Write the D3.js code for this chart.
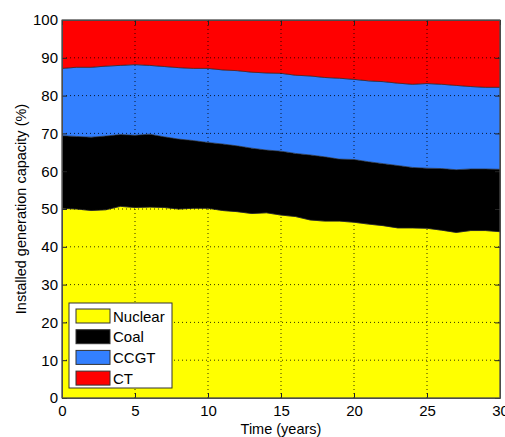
<!DOCTYPE html>
<html>
<head>
  <script src="https://cdnjs.cloudflare.com/ajax/libs/d3/7.8.5/d3.min.js"></script>
  <style>
    body { margin: 0; background: white; }
    svg text { font-family: "Liberation Sans", Arial, sans-serif; fill: black; }
    .tick text { font-size: 15px; }
    .grid line { stroke: black; stroke-width: 1; stroke-dasharray: 1 3; opacity: 0.8; }
  </style>
</head>
<body>
  <div id="chart"></div>
  <script>
    // Time axis (years)
    const years = d3.range(0, 31);

    // Share of installed capacity per technology (%)
    const nuclear = [50.2, 50.0, 49.6, 49.8, 50.7, 50.4, 50.5, 50.4, 50.0, 50.2, 50.2, 49.6, 49.3, 48.8, 49.0, 48.4,
                     48.0, 47.1, 46.8, 46.8, 46.5, 46.0, 45.6, 45.0, 45.0, 44.9, 44.4, 43.8, 44.3, 44.3, 44.0];
    const coal    = [19.2, 19.2, 19.4, 19.5, 19.0, 19.1, 19.3, 18.7, 18.5, 17.9, 17.4, 17.6, 17.4, 17.3, 16.6, 16.9,
                     16.7, 17.2, 17.0, 16.4, 16.6, 16.5, 16.4, 16.5, 16.0, 15.9, 16.3, 16.6, 16.3, 16.3, 16.5];
    const ccgt    = [17.8, 18.3, 18.5, 18.5, 18.3, 18.7, 18.2, 18.6, 18.9, 19.1, 19.6, 19.6, 19.9, 20.1, 20.4, 20.6,
                     20.7, 20.9, 21.0, 21.4, 21.2, 21.4, 21.7, 21.8, 22.0, 22.4, 22.3, 22.3, 21.8, 21.6, 21.7];
    const ct      = [12.8, 12.5, 12.5, 12.2, 12.0, 11.8, 12.0, 12.3, 12.6, 12.8, 12.8, 13.2, 13.4, 13.8, 14.0, 14.1,
                     14.6, 14.8, 15.2, 15.4, 15.7, 16.1, 16.3, 16.7, 17.0, 16.8, 17.0, 17.3, 17.6, 17.8, 17.8];

    const seriesNames = ["Nuclear", "Coal", "CCGT", "CT"];
    const seriesColors = ["#ffff00", "#000000", "#3380ff", "#ff0000"];
    const xTicks = [0, 5, 10, 15, 20, 25, 30];
    const yTicks = [0, 10, 20, 30, 40, 50, 60, 70, 80, 90, 100];

    const rows = years.map((t, i) => ({
      t: t, Nuclear: nuclear[i], Coal: coal[i], CCGT: ccgt[i], CT: ct[i]
    }));

    const width = 505, height = 437;
    const margin = { left: 62, right: 5, top: 20, bottom: 39 };

    const svg = d3.select("#chart").append("svg")
      .attr("width", width)
      .attr("height", height);

    const x = d3.scaleLinear().domain([0, 30]).range([margin.left, width - margin.right]);
    const y = d3.scaleLinear().domain([0, 100]).range([height - margin.bottom, margin.top]);

    const stacked = d3.stack().keys(seriesNames)(rows);

    const area = d3.area()
      .x(d => x(d.data.t))
      .y0(d => y(d[0]))
      .y1(d => y(d[1]));

    svg.selectAll(".layer")
      .data(stacked)
      .enter()
      .append("path")
      .attr("class", "layer")
      .attr("d", area)
      .attr("fill", (d, i) => seriesColors[i])
      .attr("stroke", "#222")
      .attr("stroke-width", 0.6);

    // dotted grid on top of the areas
    const grid = svg.append("g").attr("class", "grid");
    grid.selectAll(".vx")
      .data(xTicks.slice(1, -1))
      .enter().append("line")
      .attr("x1", d => x(d)).attr("x2", d => x(d))
      .attr("y1", y(0)).attr("y2", y(100));
    grid.selectAll(".hy")
      .data(yTicks.slice(1, -1))
      .enter().append("line")
      .attr("x1", x(0)).attr("x2", x(30))
      .attr("y1", d => y(d)).attr("y2", d => y(d));

    // axes with inward ticks
    svg.append("g")
      .attr("transform", `translate(0,${y(0)})`)
      .call(d3.axisBottom(x).tickValues(xTicks).tickSizeInner(-5).tickSizeOuter(0).tickPadding(7));
    svg.append("g")
      .attr("transform", `translate(${x(0)},0)`)
      .call(d3.axisLeft(y).tickValues(yTicks).tickSizeInner(-5).tickSizeOuter(0).tickPadding(4));
    svg.append("g")
      .attr("transform", `translate(${x(30)},0)`)
      .call(d3.axisRight(y).tickValues(yTicks).tickSizeInner(-5).tickSizeOuter(0).tickFormat(""));
    svg.append("g")
      .attr("transform", `translate(0,${y(100)})`)
      .call(d3.axisTop(x).tickValues(xTicks).tickSizeInner(-5).tickSizeOuter(0).tickFormat(""));

    svg.selectAll(".domain").attr("stroke", "#444");
    svg.selectAll(".tick line").attr("stroke", "#222");

    // box
    svg.append("rect")
      .attr("x", x(0)).attr("y", y(100))
      .attr("width", x(30) - x(0)).attr("height", y(0) - y(100))
      .attr("fill", "none").attr("stroke", "#555").attr("stroke-width", 1);

    // axis labels
    svg.append("text")
      .attr("x", (x(0) + x(30)) / 2)
      .attr("y", 434)
      .attr("text-anchor", "middle")
      .style("font-size", "14.5px")
      .text("Time (years)");

    svg.append("text")
      .attr("transform", `translate(26,${(y(0) + y(100)) / 2}) rotate(-90)`)
      .attr("text-anchor", "middle")
      .style("font-size", "14.5px")
      .text("Installed generation capacity (%)");

    // legend
    const legend = svg.append("g").attr("transform", "translate(69,303)");
    legend.append("rect")
      .attr("width", 103).attr("height", 85)
      .attr("fill", "white").attr("stroke", "#333");
    const items = legend.selectAll(".item")
      .data(seriesNames)
      .enter().append("g")
      .attr("transform", (d, i) => `translate(7,${6 + i * 20.7})`);
    items.append("rect")
      .attr("width", 34).attr("height", 14)
      .attr("fill", (d, i) => seriesColors[i])
      .attr("stroke", "#333");
    items.append("text")
      .attr("x", 37).attr("y", 12.5)
      .style("font-size", "15px")
      .text(d => d);
  </script>
</body>
</html>
